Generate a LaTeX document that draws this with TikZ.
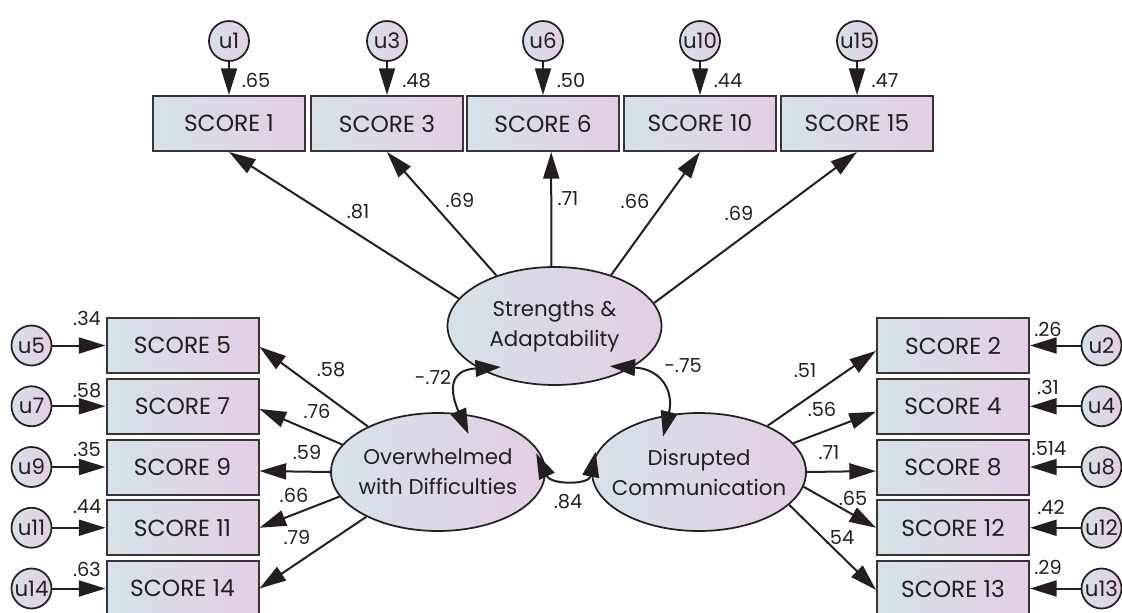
\documentclass[tikz,border=0pt]{standalone}
\usepackage{fontspec}
\setmainfont{Poppins}
\usetikzlibrary{arrows.meta,shapes.geometric,bending}
\definecolor{gl}{HTML}{D5E2E8}
\definecolor{gr}{HTML}{E3CEE3}
\definecolor{ink}{HTML}{231F20}
\begin{document}
\begin{tikzpicture}[x=0.75pt,y=-0.75pt,
  every node/.style={text=ink},
  obs/.style={draw=ink!90, line width=1.5pt, left color=gl, right color=gr,
    minimum width=114pt, minimum height=41.25pt, inner sep=0pt,
    font=\fontsize{17.5}{19}\selectfont},
  lat/.style={ellipse, draw=ink, line width=1.3pt, left color=gl, right color=gr,
    minimum width=160.5pt, minimum height=88.5pt, inner xsep=-14pt, inner ysep=0pt, align=center,
    font=\fontsize{16}{22.5}\selectfont},
  err/.style={circle, draw=ink, line width=1.3pt, left color=gl, right color=gr,
    minimum size=30pt, inner sep=0pt, font=\fontsize{16}{16}\selectfont},
  arr/.style={-{Triangle[length=20pt,width=12pt]}, line width=1.5pt, draw=ink},
  dblq/.style={{Triangle[length=19pt,width=12.5pt,quick]}-{Triangle[length=19pt,width=12.5pt,quick]},
    shorten <=-17pt, shorten >=-17pt, line width=1.5pt, draw=ink},
  lab/.style={font=\fontsize{14.5}{15}\selectfont, inner sep=0pt}]
\useasboundingbox (0,0) rectangle (1122,612);

% latent variables
\node[lat] (S) at (554.5,326) {Strengths \&\\Adaptability};
\node[lat] (O) at (438,472) {Overwhelmed\\with Difficulties};
\node[lat] (D) at (699,472) {Disrupted\\Communication};

% top observed
\node[obs] (b1)  at (229,123.5) {SCORE 1};
\node[obs] (b3)  at (387,123.5) {SCORE 3};
\node[obs] (b6)  at (543,123.5) {SCORE 6};
\node[obs] (b10) at (700,123.5) {SCORE 10};
\node[obs] (b15) at (857,123.5) {SCORE 15};
\node[err] (u1)  at (229,41) {u1};
\node[err] (u3)  at (387,41) {u3};
\node[err] (u6)  at (543,41) {u6};
\node[err] (u10) at (700,41) {u10};
\node[err] (u15) at (857,41) {u15};

% left observed
\node[obs] (b5)  at (182.5,345.5) {SCORE 5};
\node[obs] (b7)  at (182.5,406.25) {SCORE 7};
\node[obs] (b9)  at (182.5,467) {SCORE 9};
\node[obs] (b11) at (182.5,527.75) {SCORE 11};
\node[obs] (b14) at (182.5,588.5) {SCORE 14};
\node[err] (u5)  at (31.5,345.5) {u5};
\node[err] (u7)  at (31.5,406.25) {u7};
\node[err] (u9)  at (31.5,467) {u9};
\node[err] (u11) at (31.5,527.75) {u11};
\node[err] (u14) at (31.5,588.5) {u14};

% right observed
\node[obs] (b2)  at (953,345.5) {SCORE 2};
\node[obs] (b4)  at (953,406.25) {SCORE 4};
\node[obs] (b8)  at (953,467) {SCORE 8};
\node[obs] (b12) at (953,527.75) {SCORE 12};
\node[obs] (b13) at (953,588.5) {SCORE 13};
\node[err] (u2)  at (1101.5,345.5) {u2};
\node[err] (u4)  at (1101.5,406.25) {u4};
\node[err] (u8)  at (1101.5,467) {u8};
\node[err] (u12) at (1101.5,527.75) {u12};
\node[err] (u13) at (1101.5,588.5) {u13};

% error arrows
\foreach \u/\b in {u1/b1,u3/b3,u6/b6,u10/b10,u15/b15,u5/b5,u7/b7,u9/b9,u11/b11,u14/b14,u2/b2,u4/b4,u8/b8,u12/b12,u13/b13}
  \draw[arr] (\u) -- (\b);

% loadings: Strengths
\draw[arr] (S.164) -- (b1.south);
\draw[arr] (S.139) -- (b3.south);
\draw[arr] (S.93) -- (b6.-74.5);
\draw[arr] (S.42) -- (b10.south);
\draw[arr] (S.13) -- (b15.south);
% loadings: Overwhelmed
\draw[arr] (O.147) -- (b5.-1.9);
\draw[arr] (O.164) -- (b7.-2.8);
\draw[arr] (O.180) -- (b9.-3.8);
\draw[arr] (O.194) -- (b11.east);
\draw[arr] (O.212) -- (b14.east);
% loadings: Disrupted
\draw[arr] (D.34) -- (b2.184.9);
\draw[arr] (D.17) -- (b4.184.3);
\draw[arr] (D.0) -- (b8.183.8);
\draw[arr] (D.-8.4) -- (b12.west);
\draw[arr] (D.-20.2) -- (b13.181);

% correlations
\draw[dblq] (S.209) .. controls (448,370) and (450,392) .. (O.70);
\draw[dblq] (S.332) .. controls (662,369) and (674,392) .. (D.118);
\draw[dblq] (O.-1) .. controls (551,485) and (589,485) .. (D.181);

% labels
\node[lab] (e1)  at (256,80.5) {.65};
\node[lab] (e3)  at (416.5,80.5) {.48};
\node[lab] (e6)  at (571,80.5) {.50};
\node[lab] (e10) at (728,80.5) {.44};
\node[lab] (e15) at (885,80.5) {.47};

\node[lab] (e5)  at (87,318) {.34};
\node[lab] (e7)  at (87,391) {.58};
\node[lab] (e9)  at (87,449) {.35};
\node[lab] (e11) at (87,507) {.44};
\node[lab] (e14) at (87,569) {.63};

\node[lab] (e2)  at (1048,329) {.26};
\node[lab] (e4)  at (1048,387.5) {.31};
\node[lab] (e8)  at (1049,449) {.514};
\node[lab] (e12) at (1051,507) {.42};
\node[lab] (e13) at (1048,567) {.29};

\node[lab] (l1)  at (358,212) {.81};
\node[lab] (l3)  at (460,200) {.69};
\node[lab] (l6)  at (568,199) {.71};
\node[lab] (l10) at (635,201) {.66};
\node[lab] (l15) at (739,213) {.69};

\node[lab] (l5)  at (331,370) {.58};
\node[lab] (l7)  at (317,411) {.76};
\node[lab] (l9)  at (307,452) {.59};
\node[lab] (l11) at (294,495) {.66};
\node[lab] (l14) at (297,537) {.79};

\node[lab] (l2)  at (805,371) {.51};
\node[lab] (l4)  at (822,409) {.56};
\node[lab] (l8)  at (829,453) {.71};
\node[lab] (l12) at (853,498) {.65};
\node[lab] (l13) at (840,538) {.54};

\node[lab] (c1) at (433,377) {-.72};
\node[lab] (c2) at (683,366) {-.75};
\node[lab] (c3) at (568,502) {.84};
\end{tikzpicture}
\end{document}
